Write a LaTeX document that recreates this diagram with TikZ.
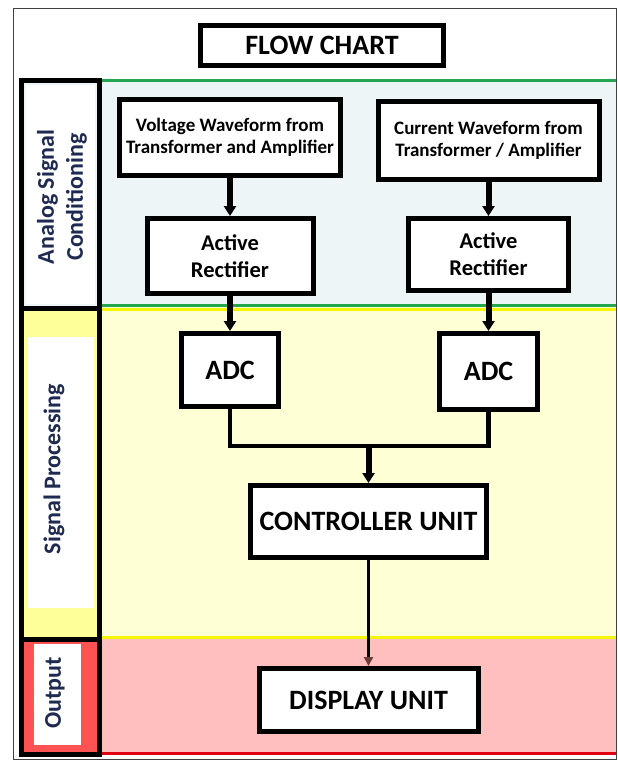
\documentclass[tikz,border=0pt]{standalone}
\usepackage{fontspec}
\setmainfont{Carlito}
\usetikzlibrary{arrows.meta}
\definecolor{fcNavy}{HTML}{1F2A50}
\definecolor{fcGreen}{HTML}{22A650}
\definecolor{fcYellow}{HTML}{F5F500}
\definecolor{fcRed}{HTML}{E00010}
\definecolor{fcPaleBlue}{HTML}{EEF5F7}
\definecolor{fcPaleYellow}{HTML}{FFFFD6}
\definecolor{fcPink}{HTML}{FFBFBF}
\definecolor{fcSideYellow}{HTML}{FFFF99}
\definecolor{fcSideRed}{HTML}{FF5252}
\definecolor{fcBrown}{HTML}{6E3B3B}
\definecolor{fcGray}{HTML}{404040}
\tikzset{
  fc box/.style={draw=black, fill=white, line width=5pt, inner sep=2pt, align=center},
  fc band line/.style={line width=3pt},
  fc side/.style={draw=black, line width=5pt},
  fc side label/.style={rotate=90, font=\bfseries\fontsize{24}{29}\selectfont, text=fcNavy, align=center},
  fc flow/.style={line width=6pt, -{Triangle[length=10pt,width=12pt]}},
  fc wire/.style={line width=4.5pt},
  fc thin flow/.style={line width=3.5pt, -{Triangle[length=9pt,width=9pt,color=fcBrown]}},
}

\begin{document}
\begin{tikzpicture}[x=1pt,y=-1pt]
  \useasboundingbox (0,0) rectangle (618,763);
  % page frame
  \draw[fcGray, line width=1.5pt] (13.5,8.5) rectangle (616.5,759.5);

  % coloured bands
  \fill[fcPaleBlue] (102,80) rectangle (616,305);
  \fill[fcPaleYellow] (102,307) rectangle (616,637);
  \fill[fcPink] (102,639) rectangle (616,753);
  \draw[fc band line, fcGreen] (102,80) -- (616,80);
  \draw[fc band line, fcGreen] (102,305) -- (616,305);
  \draw[fc band line, fcYellow] (102,309.5) -- (616,309.5);
  \draw[fc band line, fcYellow] (102,637.5) -- (616,637.5);
  \draw[fc band line, fcRed] (102,753) -- (616,753);

  % side column
  \filldraw[fc side, fill=fcPaleBlue] (21.5,80.5) rectangle (99.5,308.5);
  \fill[white] (26,85) rectangle (95,304);
  \filldraw[fc side, fill=fcSideYellow] (21.5,308.5) rectangle (99.5,639);
  \fill[white] (28,337) rectangle (94,608);
  \filldraw[fc side, fill=fcSideRed] (21.5,639) rectangle (99.5,754.5);
  \fill[white] (34,644) rectangle (81,745);
  \node[fc side label] (analogLabel) at (62,197) {Analog Signal\\Conditioning};
  \node[fc side label] (procLabel) at (54,469) {Signal Processing};
  \node[fc side label] (outLabel) at (55,693) {Output};

  % blocks
  \node[fc box, minimum width=243pt, minimum height=40pt, font=\bfseries\fontsize{28}{30}\selectfont] (title) at (322,45.5) {FLOW CHART};
  \node[fc box, minimum width=221pt, minimum height=76pt, font=\bfseries\fontsize{19}{22}\selectfont] (volt) at (230,137.5) {Voltage Waveform from\\Transformer and Amplifier};
  \node[fc box, minimum width=221pt, minimum height=78pt, font=\bfseries\fontsize{19}{22}\selectfont] (curr) at (488.5,140.5) {Current Waveform from\\Transformer / Amplifier};
  \node[fc box, minimum width=166pt, minimum height=75pt, font=\bfseries\fontsize{22.5}{27}\selectfont] (rectL) at (230,256) {Active\\Rectifier};
  \node[fc box, minimum width=160pt, minimum height=72pt, font=\bfseries\fontsize{22.5}{27}\selectfont] (rectR) at (488.5,254.5) {Active\\Rectifier};
  \node[fc box, minimum width=97.5pt, minimum height=73pt, font=\bfseries\fontsize{28}{30}\selectfont] (adcL) at (230,370) {ADC};
  \node[fc box, minimum width=98pt, minimum height=76pt, font=\bfseries\fontsize{28}{30}\selectfont] (adcR) at (488.5,371.5) {ADC};
  \node[fc box, minimum width=236.5pt, minimum height=72pt, font=\bfseries\fontsize{28}{30}\selectfont] (ctrl) at (368.5,521.5) {CONTROLLER UNIT};
  \node[fc box, minimum width=219pt, minimum height=63pt, font=\bfseries\fontsize{28}{30}\selectfont] (disp) at (368.5,700) {DISPLAY UNIT};

  % connectors
  \draw[fc flow] (volt) -- (rectL);
  \draw[fc flow] (curr) -- (rectR);
  \draw[fc flow] (rectL) -- (adcL);
  \draw[fc flow] (rectR) -- (adcR);
  \coordinate (merge) at (368.5,446);
  \draw[fc wire] (adcL.south) |- (merge) -| (adcR.south);
  \draw[fc flow] (merge) -- (ctrl.north);
  \draw[fc thin flow] (ctrl) -- (disp);
\end{tikzpicture}
\end{document}
